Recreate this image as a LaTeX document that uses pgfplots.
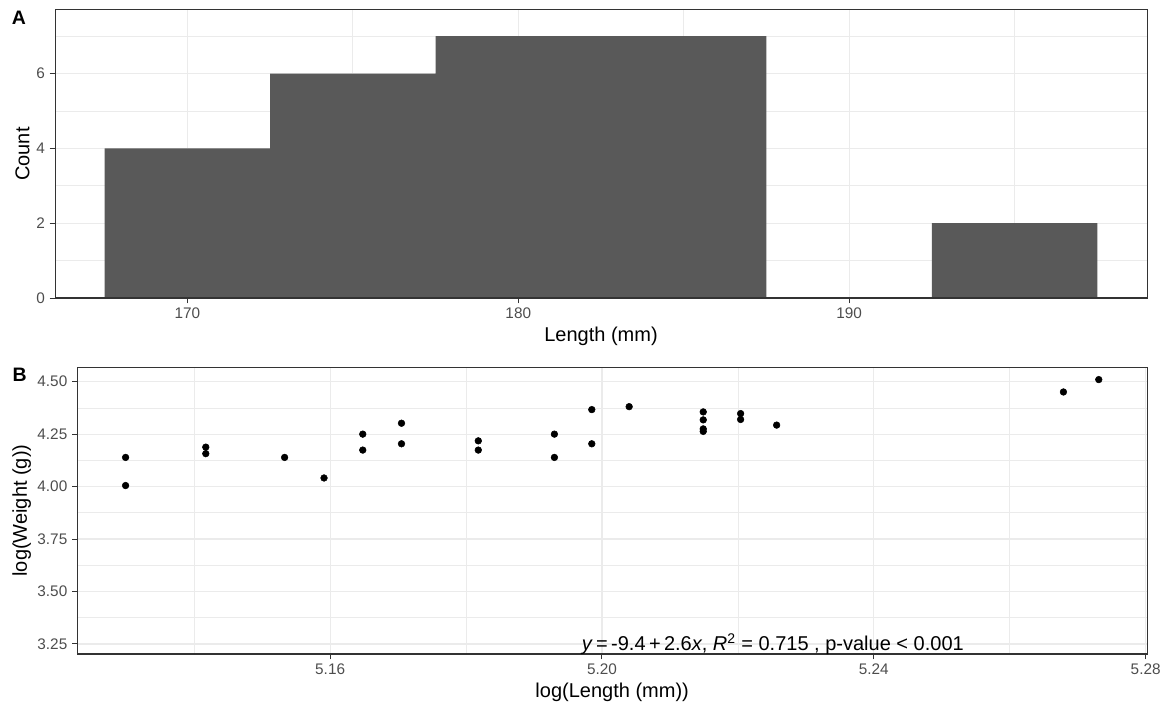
\documentclass[border=0pt]{standalone}
\usepackage{fontspec}
\setmainfont{Liberation Sans}
\usepackage{pgfplots}
\pgfplotsset{compat=1.18}
\definecolor{gridc}{HTML}{EBEBEB}
\definecolor{bordc}{HTML}{333333}
\definecolor{tickc}{HTML}{4D4D4D}
\definecolor{barc}{HTML}{595959}

\pgfplotsset{
  ggstyle/.style={
    scale only axis,
    axis line style={bordc, line width=0.75pt},
    tick align=outside,
    tick pos=left,
    major tick length=4pt,
    minor tick length=0pt,
    every tick/.style={bordc, line width=0.75pt},
    grid=both,
    major grid style={gridc, line width=0.9pt},
    minor grid style={gridc, line width=0.6pt},
    tick label style={font=\fontsize{11.5}{13}\selectfont, color=tickc},
    label style={font=\fontsize{15}{18}\selectfont, color=black},
    /pgf/number format/assume math mode=true,
  }
}

\pgfplotstableread{
x y
5.1299 4.139
5.1299 4.005
5.1417 4.188
5.1417 4.157
5.1533 4.139
5.1591 4.041
5.1648 4.250
5.1648 4.174
5.1705 4.302
5.1705 4.204
5.1818 4.218
5.1818 4.174
5.1930 4.250
5.1930 4.139
5.1985 4.367
5.1985 4.204
5.2040 4.381
5.2149 4.356
5.2149 4.318
5.2149 4.275
5.2149 4.263
5.2204 4.348
5.2204 4.320
5.2257 4.293
5.2679 4.451
5.2731 4.510
}\scatterdata

\begin{document}
\begin{tikzpicture}
\path[use as bounding box] (0,0) rectangle (874.5pt,531pt);

% Panel A
\begin{axis}[ggstyle,
  at={(41.25pt,307.5pt)}, anchor=south west,
  width=819pt, height=216pt,
  xmin=166, xmax=199, ymin=0, ymax=7.7,
  xtick={170,180,190}, minor xtick={165,175,185,195},
  ytick={0,2,4,6}, minor ytick={1,3,5,7},
  xlabel={Length (mm)}, ylabel={Count},
  xlabel style={at={(axis description cs:0.5,-0.1343)}, anchor=center},
  ylabel style={at={(axis description cs:-0.0298,0.5)}, anchor=center},
]
\addplot[ybar interval, fill=barc, draw=none] coordinates {
  (167.5,4) (172.5,6) (177.5,7) (182.5,7) (187.5,0) (192.5,2) (197.5,2)
};
\draw[bordc, line width=1.3pt] (rel axis cs:0,0) -- (rel axis cs:1,0);
\end{axis}

% Panel B
\begin{axis}[ggstyle,
  at={(58pt,40.5pt)}, anchor=south west,
  width=802.25pt, height=215.25pt,
  xmin=5.1228, xmax=5.2802, ymin=3.202, ymax=4.570,
  xtick={5.16,5.20,5.24,5.28}, xticklabels={5.16,5.20,5.24,5.28},
  minor xtick={5.14,5.18,5.22,5.26},
  ytick={3.25,3.5,3.75,4,4.25,4.5},
  yticklabels={3.25,3.50,3.75,4.00,4.25,4.50},
  minor ytick={3.375,3.625,3.875,4.125,4.375},
  xlabel={log(Length (mm))}, ylabel={log(Weight (g))},
  xlabel style={at={(axis description cs:0.5,-0.1324)}, anchor=center},
  ylabel style={at={(axis description cs:-0.0521,0.5)}, anchor=center},
]
\addplot[only marks, mark=*, mark size=2.5pt, black] table[x=x, y=y] {\scatterdata};
\draw[bordc, line width=1.3pt] (rel axis cs:0,0) -- (rel axis cs:1,0);
\node[anchor=base west, inner sep=0pt, font=\fontsize{15}{17}\selectfont]
  at (axis cs:5.1970,3.221)
  {\textit{y}\,=\,-9.4\,+\,2.6\textit{x}, \textit{R}\textsuperscript{2} = 0.715 , p-value < 0.001};
\end{axis}

\node[anchor=base west, inner sep=0pt, font=\fontsize{14.6}{17}\selectfont\bfseries] at (8.8pt,512.25pt) {A};
\node[anchor=base west, inner sep=0pt, font=\fontsize{14.6}{17}\selectfont\bfseries] at (9.2pt,245.25pt) {B};
\end{tikzpicture}
\end{document}
